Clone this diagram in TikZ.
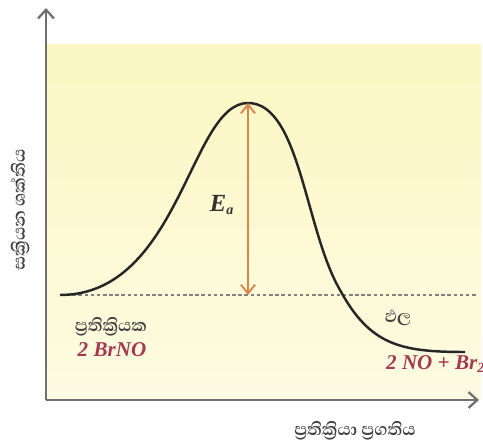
\documentclass[tikz,border=0pt]{standalone}
\usepackage{fontspec}
\setmainfont{Liberation Serif}
\newfontfamily\sinhala[Script=Sinhala]{Abhaya Libre}
\usetikzlibrary{arrows.meta}
\definecolor{axisgray}{HTML}{707070}
\definecolor{bgtop}{HTML}{FBF7C2}
\definecolor{bgbottom}{HTML}{FDFBE2}
\definecolor{eaorange}{HTML}{D8874C}
\definecolor{chemred}{HTML}{A43A52}
\definecolor{labelgray}{HTML}{404040}

\begin{document}
\begin{tikzpicture}[
  x=0.02cm, y=-0.02cm,
  axis/.style={draw=axisgray, line width=1.3pt, -{Straight Barb[length=5pt, width=9pt, line width=1.3pt]}},
  curve/.style={line width=1.4pt, black!85},
  baseline/.style={draw=gray, dash pattern=on 2pt off 1.5pt, line width=0.7pt},
  eaarrow/.style={eaorange, line width=1.1pt, {Straight Barb[length=5pt, width=8pt]}-{Straight Barb[length=5pt, width=8pt]}},
  silabel/.style={font=\sinhala\bfseries\fontsize{12.5}{15}\selectfont, labelgray},
  chem/.style={font=\fontsize{12}{14}\selectfont\bfseries\itshape, chemred},
]
  \useasboundingbox (0,0) rectangle (483,448);
  \shade[top color=bgtop, bottom color=bgbottom] (46,45) rectangle (481,400);

  % axes
  \coordinate (origin) at (46,400);
  \coordinate (ytop) at (46,8);
  \coordinate (xend) at (479,400);
  \draw[axis] (origin) -- (ytop);
  \draw[axis] (origin) -- (xend);

  % reaction curve
  \coordinate (start) at (60,295);
  \coordinate (peak) at (248,103);
  \coordinate (cross) at (340,290);
  \coordinate (finish) at (465,352);
  \coordinate (base) at (248,295);
  \coordinate (dashend) at (478,295);
  \draw[baseline] (start) -- (dashend);
  \draw[curve] (start) .. controls (180,295) and (190,103) .. (peak)
    .. controls (300,103) and (305,230) .. (cross)
    .. controls (370,345) and (400,352) .. (finish);

  % activation energy
  \draw[eaarrow] (peak) -- (base);
  \node[font=\fontsize{14}{16}\selectfont\bfseries\itshape, black!80] (ea) at (222,205) {E\textsubscript{\footnotesize a}};

  % labels
  \node[silabel] (react) at (111,327) {ප්^^^^200dරතික්^^^^200dරියක};
  \node[chem] (brno) at (112,350) {2 BrNO};
  \node[silabel] (prod) at (398,318) {ඵල};
  \node[chem, anchor=west] (nobr) at (380,364) {2 NO + Br\textsubscript{2}};
  \node[silabel] (xlabel) at (355,431) {ප්^^^^200dරතික්^^^^200dරියා ප්^^^^200dරගතිය};
  \node[silabel, rotate=90] (ylabel) at (20,210) {සක්^^^^200dරියන ශක්තිය};
\end{tikzpicture}
\end{document}
